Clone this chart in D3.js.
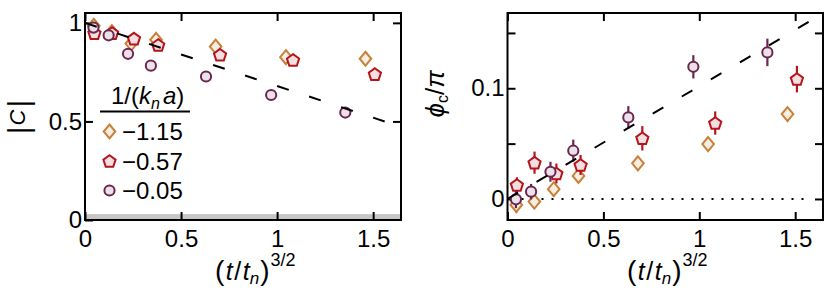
<!DOCTYPE html>
<html><head><meta charset="utf-8">
<script src="https://cdn.jsdelivr.net/npm/d3@7"></script>
<style>
body{margin:0;background:#fff}
svg{display:block}
text{font-family:"Liberation Sans",Arial,Helvetica,sans-serif;fill:#000}
</style>
</head><body>
<svg id="c" width="830" height="291"></svg>
<script>
// ---------- data ----------
const legendTitle = "1/(kn a)";
const seriesLabels = ["−1.15", "−0.57", "−0.05"];
const xTicks = [0, 0.5, 1, 1.5];
const yTicksC = [0, 0.5, 1];
const yTicksPhi = [0, 0.05, 0.1, 0.15];
const yLabelsPhi = [0, 0.1];

// x positions, (t/t_n)^{3/2}
const xDiamond = [0.046, 0.140, 0.241, 0.370, 0.680, 1.046, 1.460];
const xPent    = [0.049, 0.141, 0.255, 0.381, 0.703, 1.083, 1.509];
const xCirc    = [0.044, 0.123, 0.224, 0.343, 0.630, 0.969, 1.355];

// |C|
const cDiamond = [0.985, 0.953, 0.895, 0.914, 0.880, 0.826, 0.818];
const cPent    = [0.948, 0.948, 0.920, 0.888, 0.838, 0.812, 0.740];
const cCirc    = [0.976, 0.937, 0.843, 0.783, 0.728, 0.634, 0.545];

// phi_c / pi and error bars
const pDiamond = [-0.0054, -0.0024, 0.0088, 0.0208, 0.0322, 0.0496, 0.0767];
const eDiamond = [0.0075, 0.005, 0.005, 0.005, 0.005, 0.005, 0.005];
const pPent    = [0.0126, 0.0328, 0.0230, 0.0307, 0.0548, 0.0686, 0.1083];
const ePent    = [0.007, 0.010, 0.009, 0.009, 0.011, 0.0105, 0.012];
const pCirc    = [-0.0003, 0.0066, 0.0246, 0.0436, 0.0737, 0.1194, 0.1324];
const eCirc    = [0.008, 0.007, 0.009, 0.010, 0.0102, 0.0105, 0.0124];

// guide lines
const fitC = {x0: 0, y0: 1, x1: 1.56, y1: 0.5};
const fitPhi = {x0: 0, y0: 0, x1: 1.577, y1: 0.1606};
const zeroLine = {x0: 0, x1: 1.55, y: 0};
const noiseBand = 0.03;

// ---------- styles ----------
const styles = [
  {shape: "diamond", stroke: "#c8813a", fill: "#f8ede2"},
  {shape: "pentagon", stroke: "#b5141d", fill: "#f4dfe0"},
  {shape: "circle", stroke: "#6b2650", fill: "#ebe1e8"}
];
function shapePath(shape) {
  if (shape === "diamond") { const w = 5.8, h = 7; return `M0,${-h}L${w},0L0,${h}L${-w},0Z`; }
  if (shape === "pentagon") {
    const r = 6.4; const pts = d3.range(5).map(k => { const a = (-90 + 72 * k) * Math.PI / 180; return [r * Math.cos(a), r * Math.sin(a) + 0.6]; });
    return "M" + pts.map(p => p.join(",")).join("L") + "Z";
  }
  return d3.symbol(d3.symbolCircle, Math.PI * 5.1 * 5.1)();
}

const svg = d3.select("#c");
const FS = 24;

function panel(xr, yr, ydom, yt, ylabFmt, rightTicks) {
  const x = d3.scaleLinear([0, 1.645], xr);
  const y = d3.scaleLinear(ydom, yr);
  const g = svg.append("g");
  const axisStyle = sel => {
    sel.select(".domain").remove();
    sel.selectAll(".tick line").attr("stroke", "#000").attr("stroke-width", 2);
    sel.selectAll(".tick text").style("font-size", FS + "px").attr("fill", "#000");
  };
  g.append("g").attr("transform", `translate(0,${yr[0]})`)
    .call(d3.axisBottom(x).tickValues(xTicks).tickSize(-8).tickPadding(10).tickFormat(d3.format("~g"))).call(axisStyle);
  g.append("g").attr("transform", `translate(0,${yr[1]})`)
    .call(d3.axisTop(x).tickValues(xTicks).tickSize(-8).tickFormat("")).call(axisStyle);
  g.append("g").attr("transform", `translate(${xr[0]},0)`)
    .call(d3.axisLeft(y).tickValues(yt).tickSize(-8).tickPadding(3).tickFormat(ylabFmt)).call(axisStyle);
  g.append("g").attr("transform", `translate(${xr[1]},0)`)
    .call(d3.axisRight(y).tickValues(rightTicks).tickSize(-8).tickFormat("")).call(axisStyle);
  return {x, y, g};
}

// ---------- left panel ----------
const L = panel([85, 401], [220, 13], [0, 1.05], yTicksC, d3.format("~g"), [0.5, 1]);
L.g.insert("rect", ":first-child").attr("x", L.x(0)).attr("width", L.x(1.645) - L.x(0))
  .attr("y", L.y(noiseBand)).attr("height", L.y(0) - L.y(noiseBand)).attr("fill", "#c6c6c6");

const leftSeries = [[xDiamond, cDiamond], [xPent, cPent], [xCirc, cCirc]];
leftSeries.forEach((s, i) => {
  L.g.append("g").selectAll("path").data(s[0].map((v, j) => [v, s[1][j]])).join("path")
    .attr("d", shapePath(styles[i].shape))
    .attr("transform", d => `translate(${L.x(d[0])},${L.y(d[1])})`)
    .attr("fill", styles[i].fill).attr("stroke", styles[i].stroke).attr("stroke-width", 2);
});
L.g.append("line").attr("x1", L.x(fitC.x0)).attr("y1", L.y(fitC.y0)).attr("x2", L.x(fitC.x1)).attr("y2", L.y(fitC.y1))
  .attr("stroke", "#000").attr("stroke-width", 2).attr("stroke-dasharray", "12.3,21.4");
L.g.append("rect").attr("x", 85).attr("y", 13).attr("width", 316).attr("height", 207)
  .attr("fill", "none").attr("stroke", "#000").attr("stroke-width", 2);

// legend
const lg = svg.append("g");
const lt = lg.append("text").attr("x", 111).attr("y", 104).style("font-size", "24px");
lt.append("tspan").text("1/(");
lt.append("tspan").attr("font-style", "italic").text("k");
lt.append("tspan").attr("font-style", "italic").style("font-size", "16px").attr("dy", 5).text(legendTitle.charAt(4));
lt.append("tspan").attr("dy", -5).attr("dx", 3).attr("font-style", "italic").text("a");
lt.append("tspan").text(")");
lg.append("line").attr("x1", 100).attr("x2", 190).attr("y1", 111.5).attr("y2", 111.5).attr("stroke", "#000").attr("stroke-width", 2);
seriesLabels.forEach((lab, i) => {
  const cy = 131.5 + i * 29.5;
  lg.append("path").attr("d", shapePath(styles[i].shape)).attr("transform", `translate(109.5,${cy})`)
    .attr("fill", styles[i].fill).attr("stroke", styles[i].stroke).attr("stroke-width", 2);
  lg.append("text").attr("x", 122).attr("y", cy + 8.5).style("font-size", "24px").text(lab);
});

// ---------- right panel ----------
const R = panel([507.5, 823], [220, 13], [-0.019, 0.168], yTicksPhi,
  d => yLabelsPhi.some(v => Math.abs(v - d) < 1e-9) ? d3.format("~g")(d) : "", [0, 0.05, 0.1, 0.15]);
R.g.append("line").attr("x1", R.x(zeroLine.x0)).attr("x2", R.x(zeroLine.x1)).attr("y1", R.y(zeroLine.y)).attr("y2", R.y(zeroLine.y))
  .attr("stroke", "#000").attr("stroke-width", 2).attr("stroke-dasharray", "2,8").attr("stroke-dashoffset", -4);
const rightSeries = [[xDiamond, pDiamond, eDiamond], [xPent, pPent, ePent], [xCirc, pCirc, eCirc]];
rightSeries.forEach((s, i) => {
  const data = s[0].map((v, j) => [v, s[1][j], s[2][j]]);
  const gg = R.g.append("g");
  gg.selectAll("line").data(data).join("line")
    .attr("x1", d => R.x(d[0])).attr("x2", d => R.x(d[0]))
    .attr("y1", d => R.y(d[1] - d[2])).attr("y2", d => R.y(d[1] + d[2]))
    .attr("stroke", styles[i].stroke).attr("stroke-width", 2.2);
  gg.selectAll("path").data(data).join("path")
    .attr("d", shapePath(styles[i].shape))
    .attr("transform", d => `translate(${R.x(d[0])},${R.y(d[1])})`)
    .attr("fill", styles[i].fill).attr("stroke", styles[i].stroke).attr("stroke-width", 2);
});
R.g.append("line").attr("x1", R.x(fitPhi.x0)).attr("y1", R.y(fitPhi.y0)).attr("x2", R.x(fitPhi.x1)).attr("y2", R.y(fitPhi.y1))
  .attr("stroke", "#000").attr("stroke-width", 2).attr("stroke-dasharray", "12.3,21.4");
R.g.append("rect").attr("x", 507.5).attr("y", 13).attr("width", 315.5).attr("height", 207)
  .attr("fill", "none").attr("stroke", "#000").attr("stroke-width", 2);

// ---------- axis titles ----------
function xTitle(x0) {
  const t = svg.append("text").attr("x", x0).attr("y", 280).style("font-size", "25px");
  t.append("tspan").style("font-size", "28px").text("(");
  t.append("tspan").attr("font-style", "italic").attr("dx", 1.5).text("t");
  t.append("tspan").attr("dx", 1.5).text("/");
  t.append("tspan").attr("font-style", "italic").attr("dx", 1.5).text("t");
  t.append("tspan").attr("font-style", "italic").style("font-size", "17px").attr("dy", 4).text("n");
  t.append("tspan").style("font-size", "28px").attr("dy", -4).attr("dx", 1).text(")");
  t.append("tspan").style("font-size", "18px").attr("dy", -14).attr("dx", 1).text("3/2");
}
xTitle(215);
xTitle(627);

const yl = svg.append("text").attr("transform", "translate(29,117) rotate(-90)").attr("text-anchor", "middle");
yl.append("tspan").style("font-size", "30px").text("|");
yl.append("tspan").attr("font-style", "italic").style("font-size", "22px").attr("dx", 1).attr("dy", -4).text("C");
yl.append("tspan").style("font-size", "30px").attr("dx", 2).attr("dy", 4).text("|");

const yr = svg.append("text").attr("transform", "translate(444,94) rotate(-90)").attr("text-anchor", "middle");
yr.append("tspan").attr("font-style", "italic").style("font-size", "26px").text("ϕ");
yr.append("tspan").style("font-size", "16px").attr("dy", 4).text("c");
yr.append("tspan").style("font-size", "26px").attr("dy", -4).text("/");
yr.append("tspan").attr("font-style", "italic").style("font-size", "26px").text("π");
</script>
</body></html>
